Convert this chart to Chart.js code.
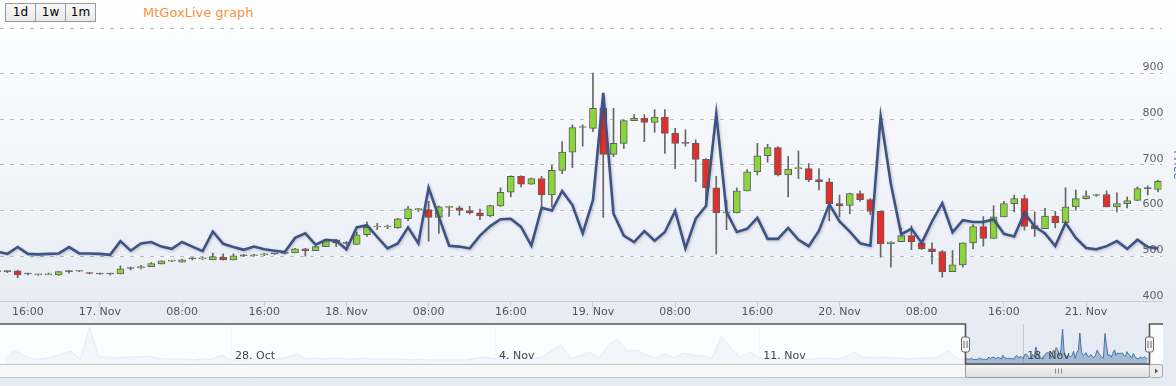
<!DOCTYPE html>
<html>
<head>
<meta charset="utf-8">
<title>MtGoxLive graph</title>
<script src="https://cdn.jsdelivr.net/npm/chart.js@4.4.0/dist/chart.umd.min.js"></script>
<style>
  html, body { margin: 0; padding: 0; width: 1176px; height: 386px; overflow: hidden; }
  body {
    position: relative;
    font-family: "DejaVu Sans", Verdana, sans-serif;
    background: linear-gradient(to bottom, #ffffff 0px, #fbfcfd 40px, #e8edf5 300px, #e6ebf3 386px);
  }
  #buttons { position: absolute; left: 5px; top: 3px; display: flex; border: 1px solid #9a9a9a; }
  #buttons span {
    width: 29px; height: 17px; line-height: 17px; text-align: center; font-size: 12px; color: #000;
    background: linear-gradient(#f8f8f8, #e9e9e9); border-left: 1px solid #9a9a9a;
  }
  #buttons span:first-child { border-left: none; }
  #title { position: absolute; left: 143px; top: 5px; font-size: 13px; color: #f7923a; }
  #mainWrap { position: absolute; left: 0; top: 0; }
  #navWrap { position: absolute; left: 0; top: 323px; }
</style>
</head>
<body>
<div id="buttons"><span>1d</span><span>1w</span><span>1m</span></div>
<div id="title">MtGoxLive graph</div>
<div id="mainWrap"><canvas id="main" width="1188" height="318"></canvas></div>
<div id="navWrap"><canvas id="nav" width="1176" height="58"></canvas></div>
<script>
// hourly candles, ordinal x axis (index), first slot is the partly hidden one
const firstIndex = -1;
const candleHours = [13,14,15,16,17,18,19,20,22,23,
  24,25,26,27,28,29,30,31,32,33,34,35,36,37,38,39,40,41,42,43,44,45,46,47,
  48,49,50,51,52,53,54,55,56,57,58,59,60,61,62,63,64,65,66,67,68,69,70,71,
  72,73,74,75,76,77,78,79,80,81,82,83,84,85,86,87,88,89,90,91,92,93,94,95,
  96,97,98,99,100,101,102,103,104,105,106,107,108,109,110,111,112,113,114,115,
  116,117,118,119,120,121,122,123,124,125,126,127];

const open = [466,466,468,461,459,459,459,466,467,463,461,461,461,473,475,477,483,489,487,494,
  494,492,498,492,501,501,503,505,506,507,516,512,521,536,528,526,547,564,564,562,
  582,602,602,585,607,606,600,595,588,610,640,675,658,670,634,688,728,782,780,824,
  723,747,797,802,793,805,769,747,747,712,650,595,595,643,685,720,738,678,692,692,
  668,663,615,611,637,624,598,527,532,545,529,516,510,466,481,529,565,539,586,615,
  626,567,560,588,573,608,626,633,635,608,615,622,648,646];
const high = [467,468,469,463,461,463,467,469,469,464,463,463,479,476,480,486,490,491,493,497,
  497,507,505,505,504,504,506,506,508,517,517,522,537,537,532,553,575,572,568,583,
  609,605,620,610,610,610,609,603,612,650,676,676,671,675,699,751,788,788,901,838,
  824,799,810,810,821,821,780,777,755,714,675,622,650,690,747,745,740,719,731,703,
  692,670,634,638,643,626,598,532,562,567,532,529,512,512,529,569,587,611,620,634,
  634,597,605,598,650,645,643,636,643,639,630,652,654,667];
const low = [465,464,453,459,458,459,458,463,466,461,460,459,461,470,472,477,483,488,487,492,
  493,492,491,492,499,500,501,504,505,507,500,512,521,521,524,525,543,558,560,561,
  578,598,533,550,587,590,592,580,586,609,630,652,657,608,608,681,694,741,773,585,
  718,736,797,751,771,725,692,741,663,622,505,558,595,643,678,706,676,630,670,663,
  645,577,586,593,620,591,498,476,532,514,515,483,454,466,476,516,522,539,586,597,
  557,543,560,562,573,601,625,631,608,597,606,622,634,641];
const close = [466,466,459,461,460,460,466,466,468,462,461,461,472,473,476,484,490,490,492,494,
  495,499,492,501,501,502,504,505,507,516,512,521,536,529,528,547,564,565,565,582,
  604,603,585,608,609,600,595,588,611,640,675,658,670,634,688,728,782,783,824,723,
  747,797,802,793,805,769,747,747,712,650,595,596,643,685,720,738,678,691,693,667,
  663,615,610,637,624,598,527,531,545,531,516,510,466,481,529,565,539,586,615,626,
  565,560,588,573,608,626,632,634,608,615,622,648,648,664];
// the dark blue line (drawn on its own hidden axis, also shown in the navigator)
const volume = [510,505,520,505,504,505,506,520,506,506,505,503,533,512,528,531,521,516,531,521,
  511,554,527,520,514,521,515,512,509,540,550,525,536,534,515,563,568,542,517,528,
  563,528,650,586,523,521,517,545,566,581,582,564,523,606,600,643,612,550,623,858,
  593,545,531,555,534,553,599,517,582,610,812,597,553,560,584,538,538,562,536,522,
  556,614,576,554,528,523,806,658,548,560,529,576,616,552,579,575,575,581,549,543,
  595,565,550,522,573,540,518,515,522,533,516,536,520,517];

// navigator history before the zoomed range (hours from 16 Nov 00:00)
const navOldHours = [-600,-594,-588,-582,-576,-570,-564,-558,-552,-546,
  -540,-534,-528,-522,-516,-510,-504,-498,-492,-486,
  -480,-474,-468,-462,-456,-450,-444,-438,-432,-426,
  -420,-414,-408,-402,-396,-390,-384,-378,-372,-366,
  -360,-354,-348,-342,-336,-330,-324,-318,-312,-306,
  -300,-294,-288,-282,-276,-270,-264,-258,-252,-246,
  -240,-234,-228,-222,-216,-210,-204,-198,-192,-186,
  -180,-174,-168,-162,-156,-150,-144,-138,-132,-126,
  -120,-114,-108,-102,-96,-90,-84,-78,-72,-66,
  -60,-54,-48,-42,-36,-30,-24,-18,-12,-6,0,6];
const navOldValues = [498,610,556,510,510,533,568,600,510,880,
  533,533,522,533,533,545,522,510,510,510,
  498,510,510,556,498,498,510,510,510,510,
  533,568,510,522,510,522,510,510,522,510,
  510,510,510,498,510,498,498,498,498,498,
  522,533,510,533,510,522,522,533,614,672,
  522,545,591,522,672,742,603,614,556,522,
  568,522,580,556,545,522,777,638,533,591,
  522,510,522,510,522,510,510,522,510,522,
  591,533,522,533,522,522,510,522,522,533,614,510];

const xTickPos = [2,9,17,25,33,41,49,57,65,73,81,89,97,105];
const xTickLabels = ['16:00','17. Nov','08:00','16:00','18. Nov','08:00','16:00','19. Nov','08:00','16:00','20. Nov','08:00','16:00','21. Nov'];
const navTickHours = [-456,-288,-120,48];
const navTickLabels = ['28. Oct','4. Nov','11. Nov','18. Nov'];
const navSelection = [11, 128];

Chart.defaults.font.family = '"DejaVu Sans", Verdana, sans-serif';
Chart.defaults.font.size = 11;

const idx = i => i + firstIndex;

const whiteGrid = {
  id: 'whiteGrid',
  beforeDraw(chart) {
    const y = chart.scales.y, a = chart.chartArea, ctx = chart.ctx;
    ctx.save();
    ctx.strokeStyle = '#ffffff';
    ctx.lineWidth = 1;
    y.ticks.forEach(t => {
      if (t.value === 400) return;
      const py = Math.round(y.getPixelForValue(t.value)) + 0.5;
      ctx.beginPath(); ctx.moveTo(a.left, py); ctx.lineTo(a.right, py); ctx.stroke();
    });
    ctx.restore();
  }
};

const lineShadow = {
  id: 'lineShadow',
  beforeDatasetDraw(chart, args) {
    if (args.index !== 0) return;
    const ctx = chart.ctx;
    ctx.save();
    ctx.shadowColor = 'rgba(0,0,0,0.22)';
    ctx.shadowBlur = 3;
    ctx.shadowOffsetX = 1;
    ctx.shadowOffsetY = 1;
  },
  afterDatasetDraw(chart, args) {
    if (args.index === 0) chart.ctx.restore();
  }
};

new Chart(document.getElementById('main'), {
  type: 'bar',
  data: {
    datasets: [
      {
        type: 'line',
        label: 'Volume',
        data: volume.map((v, i) => ({x: idx(i), y: v})),
        borderColor: '#3d5286',
        borderWidth: 2.6,
        pointRadius: 0,
        tension: 0,
        yAxisID: 'yVol',
        order: 0
      },
      {
        label: 'Body',
        data: open.map((o, i) => ({x: idx(i), y: [o, close[i]]})),
        backgroundColor: ctx => {
          const i = ctx.dataIndex;
          if (close[i] > open[i]) return '#8ad43c';
          if (close[i] < open[i]) return '#e0302c';
          return '#666666';
        },
        borderColor: '#5f5f5f',
        borderWidth: 1,
        borderSkipped: false,
        barThickness: 7,
        minBarLength: 1,
        grouped: false,
        order: 1
      },
      {
        label: 'Wick',
        data: low.map((l, i) => ({x: idx(i), y: [l, high[i]]})),
        backgroundColor: '#666666',
        barThickness: 1,
        grouped: false,
        order: 2
      }
    ]
  },
  options: {
    responsive: false,
    animation: false,
    devicePixelRatio: 1,
    layout: { padding: { top: 28, left: 0, right: 0, bottom: 0 } },
    plugins: { legend: { display: false }, tooltip: { enabled: false } },
    scales: {
      x: {
        type: 'linear',
        offset: false,
        min: -0.72,
        max: 112.35,
        afterBuildTicks: s => { s.ticks = xTickPos.map(v => ({value: v})); },
        ticks: {
          autoSkip: false,
          maxRotation: 0,
          padding: -1,
          color: '#555555',
          callback: v => xTickLabels[xTickPos.indexOf(v)]
        },
        grid: { offset: false, drawOnChartArea: false, tickLength: 5, color: '#c0d0e0' },
        border: { color: '#c0d0e0' }
      },
      y: {
        position: 'right',
        min: 400,
        max: 1000,
        ticks: {
          stepSize: 100,
          mirror: true,
          padding: 2,
          labelOffset: -6,
          color: '#606060',
          callback: v => (v === 1000 ? '' : v)
        },
        grid: {
          drawTicks: false,
          color: c => (c.tick && c.tick.value === 400 ? 'rgba(0,0,0,0)' : '#bcbcbc')
        },
        border: { display: false, dash: [4, 6] },
        title: { display: true, text: 'Price', color: '#4d759e', font: { size: 12 }, padding: { top: 4, bottom: 4 } }
      },
      yVol: { display: false, min: 400, max: 1000 }
    }
  },
  plugins: [whiteGrid, lineShadow]
});

// navigator
const navData = navOldHours.map((h, i) => ({x: h, y: navOldValues[i]}))
  .concat(candleHours.map((h, i) => ({x: h, y: volume[i]})));

const navDecor = {
  id: 'navDecor',
  afterDatasetsDraw(chart) {
    const {ctx, chartArea: a, scales: {x}} = chart;
    const s0 = x.getPixelForValue(navSelection[0]);
    const s1 = x.getPixelForValue(navSelection[1]);
    ctx.save();
    ctx.fillStyle = 'rgba(255,255,255,0.86)';
    ctx.fillRect(a.left, a.top, s0 - a.left, a.bottom - a.top);
    ctx.fillRect(s1, a.top, chart.width - 13 - s1, a.bottom - a.top);
    ctx.restore();
  },
  afterDraw(chart) {
    const {ctx, chartArea: a, scales: {x}} = chart;
    const s0 = Math.round(x.getPixelForValue(navSelection[0])) + 0.5;
    const s1 = Math.round(x.getPixelForValue(navSelection[1])) + 0.5;
    const right = a.right + 14;
    ctx.save();
    // week labels
    ctx.font = '11px "DejaVu Sans", Verdana, sans-serif';
    ctx.fillStyle = '#444444';
    ctx.textBaseline = 'middle';
    ctx.textAlign = 'left';
    navTickHours.forEach((h, i) => ctx.fillText(navTickLabels[i], x.getPixelForValue(h) + 4, a.bottom - 8));
    // scrollbar track
    const sy = a.bottom + 0.5, sh = 13;
    ctx.fillStyle = '#f7f7f7';
    ctx.fillRect(0, sy, a.right, sh);
    ctx.strokeStyle = '#c4c4c4';
    ctx.lineWidth = 1;
    ctx.strokeRect(-1, sy, a.right + 1, sh);
    // thumb
    const g = ctx.createLinearGradient(0, sy, 0, sy + sh);
    g.addColorStop(0, '#f4f4f4');
    g.addColorStop(1, '#dedede');
    ctx.fillStyle = g;
    ctx.strokeStyle = '#9a9a9a';
    ctx.beginPath(); ctx.roundRect(s0, sy, s1 - s0, sh, 2); ctx.fill(); ctx.stroke();
    const cx = Math.round((s0 + s1) / 2) + 0.5;
    ctx.strokeStyle = '#8a8a8a';
    [-3, 0, 3].forEach(d => { ctx.beginPath(); ctx.moveTo(cx + d, sy + 4); ctx.lineTo(cx + d, sy + sh - 4); ctx.stroke(); });
    // right arrow button
    ctx.fillStyle = '#ececec';
    ctx.strokeStyle = '#a8a8a8';
    ctx.beginPath(); ctx.roundRect(a.right + 0.5, sy, 13, sh, 2); ctx.fill(); ctx.stroke();
    ctx.fillStyle = '#555555';
    ctx.beginPath();
    ctx.moveTo(a.right + 6, sy + 4); ctx.lineTo(a.right + 6, sy + 9); ctx.lineTo(a.right + 9, sy + 6.5);
    ctx.closePath(); ctx.fill();
    // outline
    ctx.strokeStyle = '#555555';
    ctx.lineWidth = 1.6;
    ctx.beginPath();
    ctx.moveTo(0, a.top); ctx.lineTo(s0, a.top); ctx.lineTo(s0, a.bottom);
    ctx.lineTo(s1, a.bottom); ctx.lineTo(s1, a.top); ctx.lineTo(right, a.top);
    ctx.stroke();
    // handles
    ctx.lineWidth = 1;
    [s0, s1].forEach(px => {
      ctx.fillStyle = '#f4f4f4';
      ctx.strokeStyle = '#666666';
      ctx.beginPath(); ctx.roundRect(px - 4, a.top + 13, 8, 15, 2); ctx.fill(); ctx.stroke();
      ctx.beginPath();
      ctx.moveTo(px - 1.5, a.top + 17); ctx.lineTo(px - 1.5, a.top + 24);
      ctx.moveTo(px + 1.5, a.top + 17); ctx.lineTo(px + 1.5, a.top + 24);
      ctx.stroke();
    });
    ctx.restore();
  }
};

new Chart(document.getElementById('nav'), {
  type: 'line',
  data: {
    datasets: [{
      label: 'Navigator',
      data: navData,
      borderColor: '#4572a7',
      borderWidth: 1,
      backgroundColor: 'rgba(69,114,167,0.42)',
      fill: 'start',
      pointRadius: 0,
      tension: 0
    }]
  },
  options: {
    responsive: false,
    animation: false,
    devicePixelRatio: 1,
    layout: { padding: { top: 1, left: 0, right: 27, bottom: 17 } },
    plugins: { legend: { display: false }, tooltip: { enabled: false } },
    scales: {
      x: {
        type: 'linear',
        min: -603,
        max: 128,
        afterBuildTicks: s => { s.ticks = navTickHours.map(v => ({value: v})); },
        ticks: { display: false },
        grid: { drawTicks: false, color: '#c8c8c8' },
        border: { display: false }
      },
      y: { display: false, min: 452, max: 916 }
    }
  },
  plugins: [navDecor]
});
</script>
</body>
</html>
